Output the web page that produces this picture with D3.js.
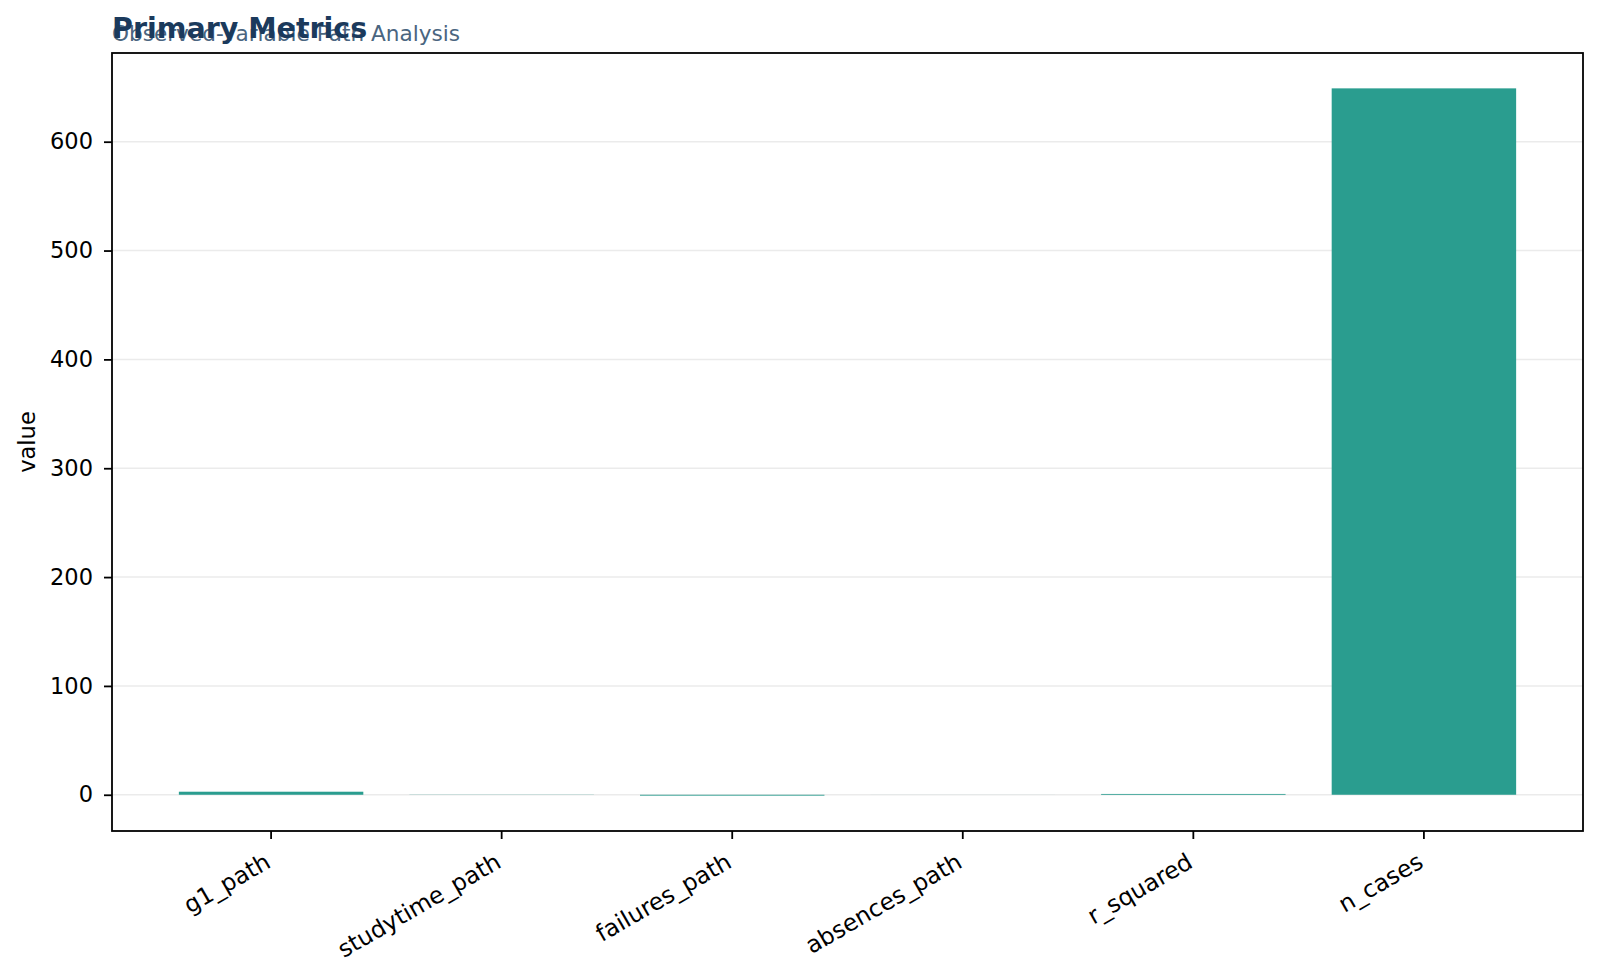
<!DOCTYPE html>
<html>
<head>
<meta charset="utf-8">
<script src="https://cdn.jsdelivr.net/npm/d3@7"></script>
<style>
  body { margin: 0; background: #fff; }
  svg text { font-family: "DejaVu Sans", sans-serif; }
</style>
</head>
<body>
<svg id="chart" width="1600" height="978"></svg>
<script>
var categories = ["g1_path", "studytime_path", "failures_path", "absences_path", "r_squared", "n_cases"];
var values = [2.8, 0.15, -0.8, 0.02, 0.75, 649];
var yTicks = [0, 100, 200, 300, 400, 500, 600];

var svg = d3.select("#chart");
var plotLeft = 112, plotRight = 1583, plotTop = 53, plotBottom = 831;

var lo = Math.min(0, d3.min(values)), hi = Math.max(0, d3.max(values));
var pad = (hi - lo) * 0.05;

var x = d3.scaleBand()
    .domain(categories)
    .range([plotLeft, plotRight])
    .paddingInner(0.2)
    .paddingOuter(0.29);

var y = d3.scaleLinear()
    .domain([lo - pad, hi + pad])
    .range([plotBottom, plotTop]);

// grid
svg.append("g").selectAll("line")
    .data(yTicks)
    .enter().append("line")
    .attr("x1", plotLeft)
    .attr("x2", plotRight)
    .attr("y1", function(d) { return y(d); })
    .attr("y2", function(d) { return y(d); })
    .style("stroke", "#ebebeb")
    .style("stroke-width", 1.5);

// bars
svg.append("g").selectAll("rect")
    .data(values)
    .enter().append("rect")
    .attr("x", function(d, i) { return x(categories[i]); })
    .attr("width", x.bandwidth())
    .attr("y", function(d) { return y(Math.max(0, d)); })
    .attr("height", function(d) { return Math.abs(y(d) - y(0)); })
    .style("fill", "#2a9d8f");

// y axis
var yAxis = svg.append("g")
    .attr("transform", "translate(" + plotLeft + ",0)")
    .call(d3.axisLeft(y).tickValues(yTicks).tickSize(8).tickPadding(11).tickFormat(d3.format("d")));
yAxis.select(".domain").remove();
yAxis.selectAll("line").style("stroke", "#000").style("stroke-width", 1.8);
yAxis.selectAll("text").style("font-size", "22.5px").style("fill", "#000")
    .style("font-family", "DejaVu Sans");

// x axis
var xAxis = svg.append("g")
    .attr("transform", "translate(0," + plotBottom + ")")
    .call(d3.axisBottom(x).tickSize(8));
xAxis.select(".domain").remove();
xAxis.selectAll("line").style("stroke", "#000").style("stroke-width", 1.8);
xAxis.selectAll("text")
    .style("font-size", "23.5px")
    .style("fill", "#000")
    .style("font-family", "DejaVu Sans")
    .attr("x", 0)
    .attr("y", 0)
    .attr("text-anchor", "end")
    .attr("dy", "0.76em")
    .attr("transform", "translate(-8,20) rotate(-30)");

// frame
svg.append("rect")
    .attr("x", plotLeft)
    .attr("y", plotTop)
    .attr("width", plotRight - plotLeft)
    .attr("height", plotBottom - plotTop)
    .style("fill", "none")
    .style("stroke", "#000")
    .style("stroke-width", 1.8);

// y label
svg.append("text")
    .attr("transform", "translate(35," + ((plotTop + plotBottom) / 2) + ") rotate(-90)")
    .attr("text-anchor", "middle")
    .style("font-size", "22.5px")
    .style("fill", "#000")
    .text("value");

// titles
svg.append("text")
    .attr("x", plotLeft)
    .attr("y", 40.5)
    .style("font-size", "21.6px")
    .style("fill", "#4a6580")
    .text("Observed-Variable Path Analysis");

svg.append("text")
    .attr("x", plotLeft)
    .attr("y", 38)
    .style("font-size", "28.5px")
    .style("font-weight", "bold")
    .style("fill", "#1b3a5c")
    .text("Primary Metrics");
</script>
</body>
</html>
